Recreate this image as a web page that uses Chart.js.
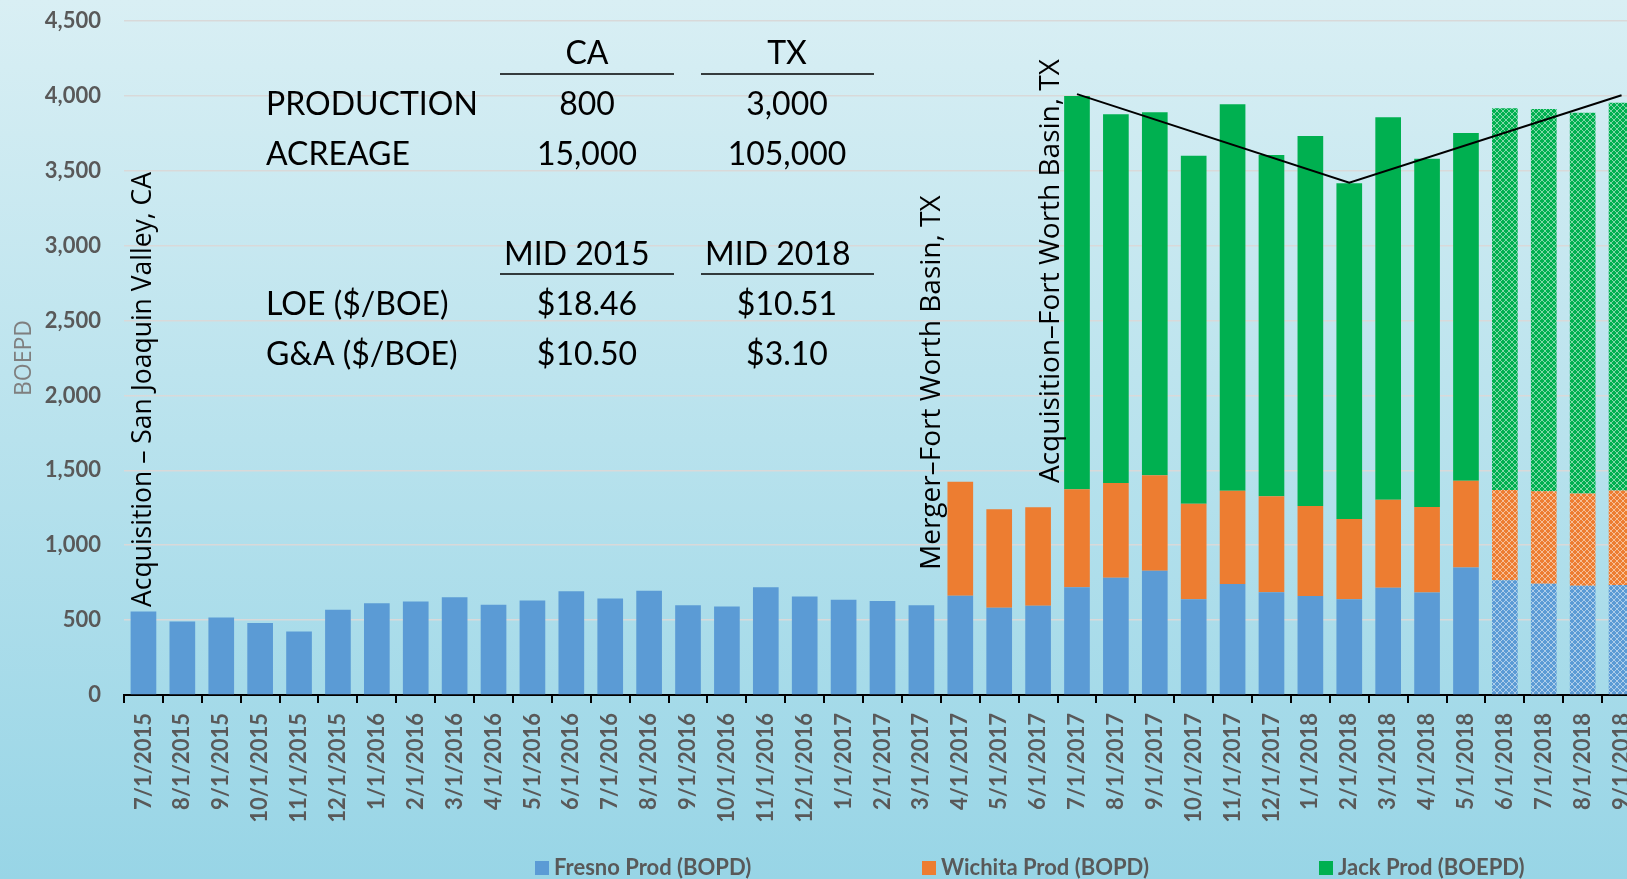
<!DOCTYPE html>
<html>
<head>
<meta charset="utf-8">
<title>Production BOEPD</title>
<script src="https://cdn.jsdelivr.net/npm/chart.js@4.4.1/dist/chart.umd.min.js"></script>
<style>
  html, body { margin: 0; padding: 0; overflow: hidden; }
  body {
    width: 1627px; height: 879px;
    background: linear-gradient(to bottom, #d9eff4 0%, #b8e2ed 50%, #98d5e6 100%);
  }
  #wrap { width: 1660px; height: 879px; }
</style>
</head>
<body>
<div id="wrap"><canvas id="prodChart" width="1660" height="879"></canvas></div>
<script>
(function () {
  'use strict';

  const months = [
    '7/1/2015', '8/1/2015', '9/1/2015', '10/1/2015', '11/1/2015', '12/1/2015',
    '1/1/2016', '2/1/2016', '3/1/2016', '4/1/2016', '5/1/2016', '6/1/2016',
    '7/1/2016', '8/1/2016', '9/1/2016', '10/1/2016', '11/1/2016', '12/1/2016',
    '1/1/2017', '2/1/2017', '3/1/2017', '4/1/2017', '5/1/2017', '6/1/2017',
    '7/1/2017', '8/1/2017', '9/1/2017', '10/1/2017', '11/1/2017', '12/1/2017',
    '1/1/2018', '2/1/2018', '3/1/2018', '4/1/2018', '5/1/2018', '6/1/2018',
    '7/1/2018', '8/1/2018', '9/1/2018'
  ];

  const fresnoBopd = [
    558, 491, 518, 480, 424, 569,
    613, 624, 653, 602, 631, 693, 644, 696, 600, 591, 720, 658,
    636, 627, 600, 663, 583, 596, 719, 783, 830, 639, 741, 686,
    661, 639, 716, 684, 852, 766, 743, 729, 735
  ];

  const wichitaBopd = [
    null, null, null, null, null, null,
    null, null, null, null, null, null, null, null, null, null, null, null,
    null, null, null, 761, 657, 657, 654, 632, 637, 638, 623, 641,
    601, 536, 588, 571, 578, 602, 617, 617, 631
  ];

  const jackBoepd = [
    null, null, null, null, null, null,
    null, null, null, null, null, null, null, null, null, null, null, null,
    null, null, null, null, null, null, 2626, 2462, 2423, 2324, 2580, 2278,
    2470, 2241, 2553, 2326, 2322, 2549, 2552, 2541, 2588
  ];

  // trend line drawn over the Jack tops
  const trendMonths = ['7/1/2017', '2/1/2018', '9/1/2018'];
  const trendValues = [4012, 3420, 4004];

  const forecastStart = '6/1/2018';
  const yMax = 4500;
  const yStep = 500;

  const seriesNames = ['Fresno Prod (BOPD)', 'Wichita Prod (BOPD)', 'Jack Prod (BOEPD)'];
  const seriesColors = ['#5B9BD5', '#ED7D31', '#00B050'];

  // text table in the upper left
  const tableHead1 = ['CA', 'TX'];
  const tableRows1 = [['PRODUCTION', '800', '3,000'], ['ACREAGE', '15,000', '105,000']];
  const tableHead2 = ['MID 2015', 'MID 2018'];
  const tableRows2 = [['LOE ($/BOE)', '$18.46', '$10.51'], ['G&A ($/BOE)', '$10.50', '$3.10']];

  const notes = [
    { text: 'Acquisition \u2013 San Joaquin Valley, CA', at: '7/1/2015', dx: 7.7, y: 607, size: 26.5 },
    { text: 'Merger\u2013Fort Worth Basin, TX', at: '3/1/2017', dx: 19, y: 570, size: 28 },
    { text: 'Acquisition\u2013Fort Worth Basin, TX', at: '7/1/2017', dx: -17.6, y: 483, size: 28 }
  ];

  const tickGray = '#595959';
  const forecastIdx = months.indexOf(forecastStart);

  function hatch(color) {
    const c = document.createElement('canvas');
    c.width = 6; c.height = 6;
    const g = c.getContext('2d');
    g.fillStyle = color;
    g.fillRect(0, 0, 6, 6);
    g.strokeStyle = 'rgba(255,255,255,0.5)';
    g.lineWidth = 1;
    g.beginPath();
    g.moveTo(0, 0); g.lineTo(6, 6);
    g.moveTo(6, 0); g.lineTo(0, 6);
    g.stroke();
    return g.createPattern(c, 'repeat');
  }

  function barFill(i) {
    const solid = seriesColors[i];
    const pat = hatch(solid);
    return function (ctx) {
      return ctx.dataIndex >= forecastIdx ? pat : solid;
    };
  }

  const trendData = months.map(function (m) {
    const k = trendMonths.indexOf(m);
    return k >= 0 ? trendValues[k] : null;
  });

  const overlay = {
    id: 'overlay',
    afterDatasetsDraw(chart) {
      const ctx = chart.ctx;
      const x = chart.scales.x;
      ctx.save();
      ctx.fillStyle = '#000';

      // table
      const colX = [587, 787];
      const lineSpans = [[500, 674], [701, 874]];
      ctx.font = '32px Lato';
      ctx.textBaseline = 'alphabetic';
      function underline(lineY) {
        ctx.strokeStyle = '#000';
        ctx.lineWidth = 1.5;
        lineSpans.forEach(function (s) {
          ctx.beginPath(); ctx.moveTo(s[0], lineY); ctx.lineTo(s[1], lineY); ctx.stroke();
        });
      }
      function rows(list, base) {
        list.forEach(function (r, k) {
          const yb = base + k * 50;
          ctx.textAlign = 'left';
          ctx.fillText(r[0], 266, yb);
          ctx.textAlign = 'center';
          ctx.fillText(r[1], colX[0], yb);
          ctx.fillText(r[2], colX[1], yb);
        });
      }
      ctx.textAlign = 'center';
      tableHead1.forEach(function (t, j) { ctx.fillText(t, colX[j], 64); });
      underline(74);
      rows(tableRows1, 115);
      ctx.textAlign = 'left';
      tableHead2.forEach(function (t, j) { ctx.fillText(t, lineSpans[j][0] + 4, 265); });
      underline(274);
      rows(tableRows2, 315);

      // rotated event notes
      notes.forEach(function (n) {
        const px = x.getPixelForValue(months.indexOf(n.at)) + n.dx;
        ctx.save();
        ctx.translate(px, n.y);
        ctx.rotate(-Math.PI / 2);
        ctx.font = n.size + 'px "Open Sans"';
        ctx.textAlign = 'left';
        ctx.textBaseline = 'alphabetic';
        ctx.fillText(n.text, 0, 0);
        ctx.restore();
      });

      // legend
      const legX = [535, 922, 1319];
      ctx.font = 'bold 22px Lato';
      ctx.textAlign = 'left';
      ctx.textBaseline = 'middle';
      seriesNames.forEach(function (name, i) {
        ctx.fillStyle = seriesColors[i];
        ctx.fillRect(legX[i], 861, 14, 14);
        ctx.fillStyle = tickGray;
        ctx.fillText(name, legX[i] + 19, 868);
      });
      ctx.restore();
    }
  };

  const canvas = document.getElementById('prodChart');
  new Chart(canvas, {
    type: 'bar',
    data: {
      labels: months,
      datasets: [
        {
          type: 'line',
          label: 'Trend',
          data: trendData,
          borderColor: '#000',
          borderWidth: 2,
          pointRadius: 0,
          spanGaps: true,
          stack: 'trend',
          order: 0
        },
        { label: seriesNames[0], data: fresnoBopd, backgroundColor: barFill(0), stack: 'prod', order: 1 },
        { label: seriesNames[1], data: wichitaBopd, backgroundColor: barFill(1), stack: 'prod', order: 1 },
        { label: seriesNames[2], data: jackBoepd, backgroundColor: barFill(2), stack: 'prod', order: 1 }
      ]
    },
    options: {
      responsive: false,
      animation: false,
      layout: { padding: { top: 21, left: 0, right: 19, bottom: 54 } },
      datasets: { bar: { categoryPercentage: 1, barPercentage: 0.66 } },
      plugins: { legend: { display: false }, tooltip: { enabled: false } },
      scales: {
        x: {
          stacked: true,
          grid: { display: true, drawOnChartArea: false, drawTicks: true, tickLength: 8, color: '#000', lineWidth: 2 },
          border: { display: true, color: '#000', width: 2 },
          ticks: {
            autoSkip: false, minRotation: 90, maxRotation: 90, padding: 10,
            color: tickGray, font: { family: 'Lato', size: 22, weight: 'bold' }
          },
          afterFit: function (s) { s.height = 130; }
        },
        y: {
          stacked: true,
          min: 0, max: yMax,
          // invisible tick marks push the labels left without adding top padding
          grid: { color: '#D9D9D9', lineWidth: 1.5, drawTicks: true, tickLength: 23, tickColor: 'rgba(0,0,0,0)' },
          border: { display: false },
          ticks: {
            stepSize: yStep, padding: 0,
            color: tickGray, font: { family: 'Lato', size: 22, weight: 'bold' },
            callback: function (v) { return v.toLocaleString('en-US'); }
          },
          title: {
            display: true, text: 'BOEPD', color: '#7f7f7f',
            font: { family: 'Open Sans', size: 23 },
            padding: { top: 11, bottom: 0 }
          },
          afterFit: function (s) { s.width = 124; }
        }
      }
    },
    plugins: [overlay]
  });
})();
</script>
</body>
</html>
